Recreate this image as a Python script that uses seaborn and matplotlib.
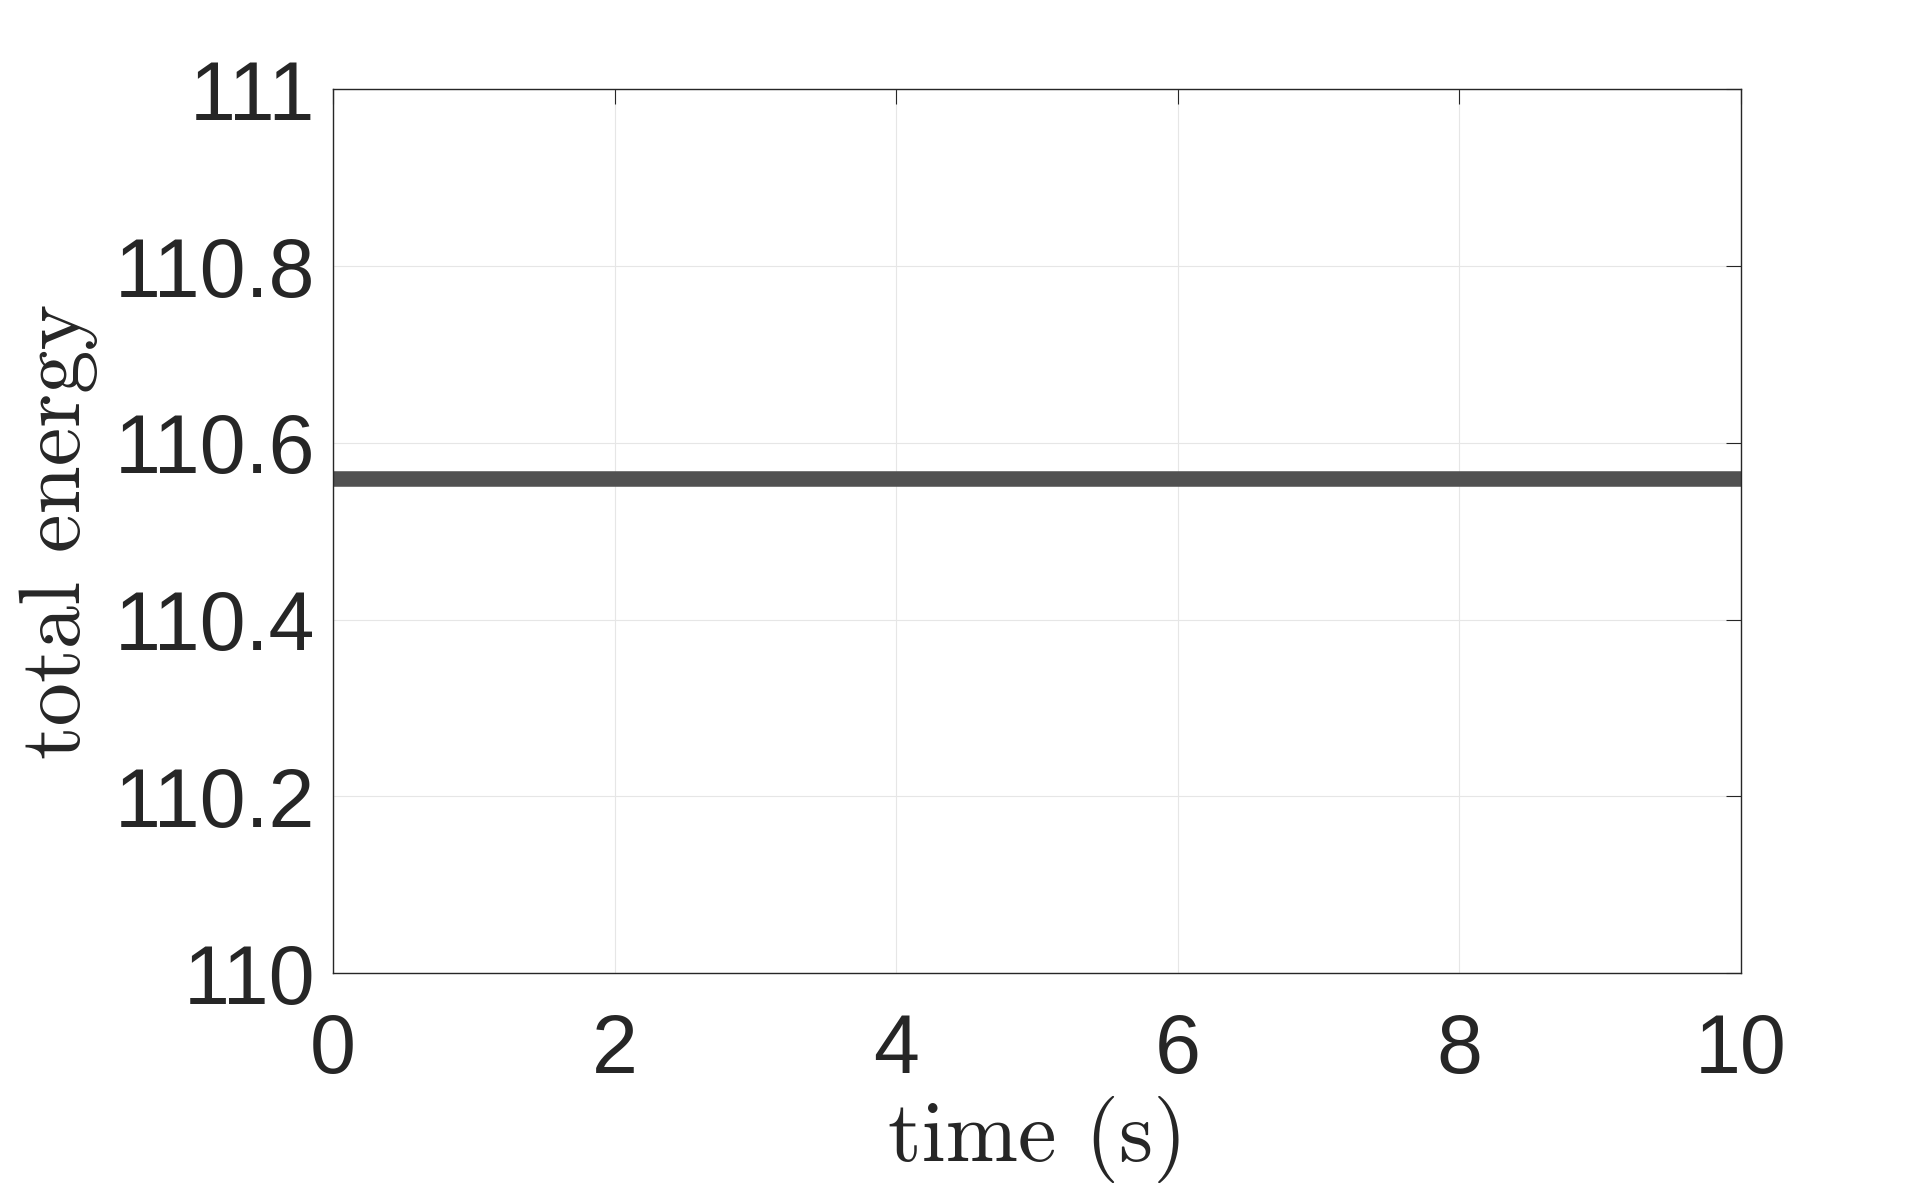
import matplotlib
matplotlib.use("Agg")
import matplotlib.pyplot as plt
import seaborn as sns
import pandas as pd

# ---- data ----
time_s = [0.0, 10.0]
total_energy = [110.5586, 110.5586]
x_ticks = [0, 2, 4, 6, 8, 10]
y_ticks = [110, 110.2, 110.4, 110.6, 110.8, 111]
y_tick_labels = ["110", "110.2", "110.4", "110.6", "110.8", "111"]

sns.set_style("white")
plt.rcParams["font.family"] = ["Liberation Sans", "DejaVu Sans"]

df = pd.DataFrame({"time": time_s, "energy": total_energy})

fig = plt.figure(figsize=(19.24, 11.96), dpi=100)
ax = fig.add_axes([0.1731, 0.1864, 0.9049 - 0.1731, 0.9253 - 0.1864])

sns.lineplot(data=df, x="time", y="energy", ax=ax, color="#515151", linewidth=11.2)

ax.set_xlim(0, 10)
ax.set_ylim(110, 111)
ax.set_xticks(x_ticks)
ax.set_yticks(y_ticks)
ax.set_yticklabels(y_tick_labels)

ax.grid(True, color="#e6e6e6", linewidth=0.8)
ax.set_axisbelow(True)
for sp in ax.spines.values():
    sp.set_visible(True)
    sp.set_color("#262626")
    sp.set_linewidth(1.0)

ax.tick_params(axis="both", direction="in", length=10.8, width=0.8, color="#262626",
               labelsize=59.5, labelcolor="#262626", top=True, right=True)
ax.tick_params(axis="x", pad=28)
ax.tick_params(axis="y", pad=13)

ax.set_xlabel("time (s)", family="cmr10", fontsize=62.5, color="#262626", labelpad=4)
ax.set_ylabel("total energy", family="cmr10", fontsize=62.5, color="#262626", labelpad=12)

fig.savefig("out.png", dpi=100, facecolor="white")
